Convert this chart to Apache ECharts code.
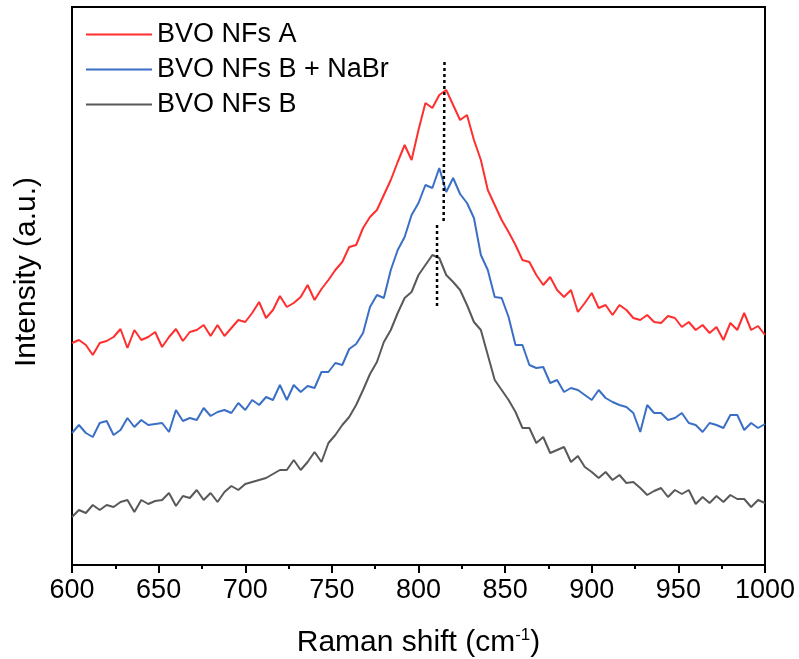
<!DOCTYPE html>
<html>
<head>
<meta charset="utf-8">
<script src="https://cdn.jsdelivr.net/npm/echarts@6/dist/echarts.min.js"></script>
<style>
  html, body {margin: 0; padding: 0; background: #fff;}
  #main {width: 799px; height: 659px;}
</style>
</head>
<body>
<div id="main"></div>
<script>
// Raman shift (cm-1), one point every 4 cm-1
let shift = [600,604,608,612,616,620,624,628,632,636,640,644,648,652,656,660,664,668,672,676,
  680,684,688,692,696,700,704,708,712,716,720,724,728,732,736,740,744,748,752,756,
  760,764,768,772,776,780,784,788,792,796,800,804,808,812,816,820,824,828,832,836,
  840,844,848,852,856,860,864,868,872,876,880,884,888,892,896,900,904,908,912,916,
  920,924,928,932,936,940,944,948,952,956,960,964,968,972,976,980,984,988,992,996,1000];

// intensity (a.u.), curves already offset
let nfsA = [222,225,220,210,222,224,228,236,217,235,225,228,233,218,228,236,224,233,235,240,
  229,240,229,237,245,243,252,263,247,255,269,258,262,268,280,265,276,285,295,303,
  318,320,337,348,355,370,385,403,420,405,435,462,457,470,475,460,445,450,425,405,
  375,360,345,333,320,305,303,290,280,288,275,268,275,253,262,272,257,260,250,260,
  255,247,245,250,243,242,249,247,238,243,235,240,232,238,225,242,235,252,235,239,230];
let nfsBNaBr = [132,140,132,128,142,144,130,135,147,138,145,140,141,142,133,155,144,147,145,157,
  149,153,155,152,162,155,165,160,168,165,180,165,180,173,179,177,193,193,202,200,
  216,221,232,258,270,267,295,315,328,350,362,380,377,397,373,387,371,362,347,310,
  295,268,267,248,220,220,200,197,198,182,185,173,177,175,170,165,175,167,163,160,
  158,152,133,160,152,152,145,147,152,142,140,133,142,140,137,150,150,135,142,137,141];
let nfsB = [48,55,52,60,55,60,58,63,65,53,65,61,64,65,72,59,69,67,75,65,
  72,63,73,79,75,81,83,85,87,91,95,95,105,95,103,113,103,122,130,140,
  148,160,175,191,203,223,235,252,267,273,290,300,310,307,290,283,275,260,243,235,
  210,185,175,165,153,137,137,122,128,112,115,118,103,109,98,93,87,93,85,90,
  82,83,77,70,74,77,68,75,71,75,61,68,62,69,63,70,66,66,58,65,62];

// dotted guide lines marking the band maximum
let guideTop = [[815, 503], [814.5, 342]];
let guideBottom = [[810.7, 340], [810.7, 258]];

let colors = ['#ff2f2f', '#3b6fc6', '#595959'];
let names = ['BVO NFs A', 'BVO NFs B + NaBr', 'BVO NFs B'];
let curves = [nfsA, nfsBNaBr, nfsB];
let font = 'Arial, "Liberation Sans", sans-serif';

function pairs(xs, ys){
    let out = [];
    for (let i = 0; i < xs.length; i++){
        out.push([xs[i], ys[i]]);
    }
    return out;
}

let series = [];
for (let i = 0; i < curves.length; i++){
    series.push({
        name: names[i],
        type: 'line',
        data: pairs(shift, curves[i]),
        symbol: 'none',
        lineStyle: {color: colors[i], width: 2},
        itemStyle: {color: colors[i]},
        animation: false
    });
}
series.push({
    type: 'line',
    data: guideTop,
    symbol: 'none',
    lineStyle: {color: '#000', width: 2.5, type: [3, 3]},
    animation: false
});
series.push({
    type: 'line',
    data: guideBottom,
    symbol: 'none',
    lineStyle: {color: '#000', width: 2.5, type: [3, 3]},
    animation: false
});

let option = {
    backgroundColor: '#fff',
    animation: false,
    grid: {
        left: 72, right: 34, top: 7, bottom: 94,
        outerBoundsMode: 'none',
        containLabel: false,
        show: true, borderColor: '#000', borderWidth: 2
    },
    legend: {
        data: names,
        orient: 'vertical',
        left: 81,
        top: 16,
        icon: 'rect',
        itemWidth: 66,
        itemHeight: 2,
        itemGap: 8,
        textStyle: {fontSize: 27, color: '#000', fontFamily: font}
    },
    xAxis: {
        type: 'value',
        min: 600,
        max: 1000,
        interval: 50,
        name: '{a|Raman shift (cm}{s|-1}{a|)}',
        nameLocation: 'middle',
        nameGap: 62,
        nameTextStyle: {
            rich: {
                a: {fontSize: 30, color: '#000', fontFamily: font},
                s: {fontSize: 17, color: '#000', fontFamily: font, verticalAlign: 'top', padding: [0, 0, 14, 0]}
            }
        },
        axisLine: {lineStyle: {color: '#000', width: 2}},
        axisTick: {length: 8, lineStyle: {color: '#000', width: 2}},
        minorTick: {show: true, splitNumber: 2, length: 4, lineStyle: {color: '#000', width: 2}},
        axisLabel: {
            fontSize: 27, color: '#000', fontFamily: font, margin: 12,
            formatter: function (v) { return String(v); }
        },
        splitLine: {show: false}
    },
    yAxis: {
        type: 'value',
        min: 0,
        max: 558,
        name: 'Intensity (a.u.)',
        nameLocation: 'middle',
        nameGap: 30,
        nameTextStyle: {fontSize: 30, color: '#000', fontFamily: font, padding: [0, 0, 0, 28]},
        axisLine: {show: true, lineStyle: {color: '#000', width: 2}},
        axisTick: {show: false},
        axisLabel: {show: false},
        splitLine: {show: false}
    },
    series: series
};

let chart = echarts.init(document.getElementById('main'));
chart.setOption(option);
</script>
</body>
</html>
